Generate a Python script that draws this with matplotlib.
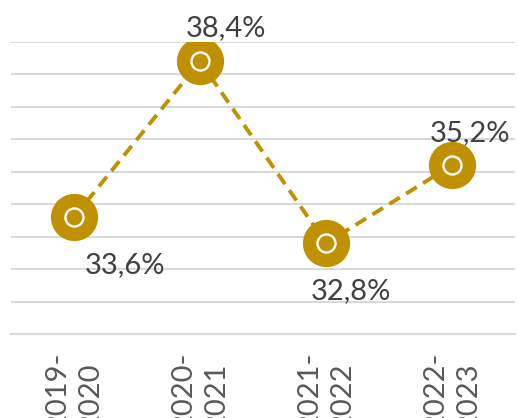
import matplotlib.pyplot as plt

# Data
years = ['2019-\n2020', '2020-\n2021', '2021-\n2022', '2022-\n2023']
values = [33.6, 38.4, 32.8, 35.2]
labels = ['33,6%', '38,4%', '32,8%', '35,2%']
# label offsets (points) from each marker
offsets = [(36.7, -40), (19, 18.4), (18, -40.3), (13, 17.3)]

gold = '#BF9000'

fig = plt.figure(figsize=(5.18, 4.18), dpi=100)
ax = fig.add_axes([11/518, 84/418, 504/518, 292/418])

x = range(len(values))
ax.plot(x, values, color=gold, lw=2.8, ls=(0, (3.2, 1.9)), zorder=2)
ax.plot(x, values, 'o', color=gold, ms=34, mew=0, zorder=3)
ax.plot(x, values, 'o', mfc=gold, mec='white', ms=13, mew=1.7, zorder=4)

for i, (v, lab) in enumerate(zip(values, labels)):
    ax.annotate(lab, (i, v), xytext=offsets[i], textcoords='offset points',
                ha='center', va='baseline', fontsize=21, color='#404040',
                family='Lato', annotation_clip=False)

ax.set_xlim(-0.5, 3.5)
ax.set_ylim(30, 39)
ax.set_yticks(range(30, 40))
ax.yaxis.grid(True, color='#D9D9D9', lw=1.5)
ax.set_axisbelow(True)
ax.tick_params(axis='y', left=False, labelleft=False)
ax.tick_params(axis='x', length=0, pad=13)
ax.set_xticks(list(x))
ax.set_xticklabels(years, rotation=90, ha='center', va='top', fontsize=21,
                   color='#595959', family='Lato',
                   linespacing=1.35, multialignment='left')
for s in ['top', 'right', 'left']:
    ax.spines[s].set_visible(False)
ax.spines['bottom'].set_color('#D9D9D9')
ax.spines['bottom'].set_linewidth(1.5)

fig.savefig('out.png', dpi=100)
